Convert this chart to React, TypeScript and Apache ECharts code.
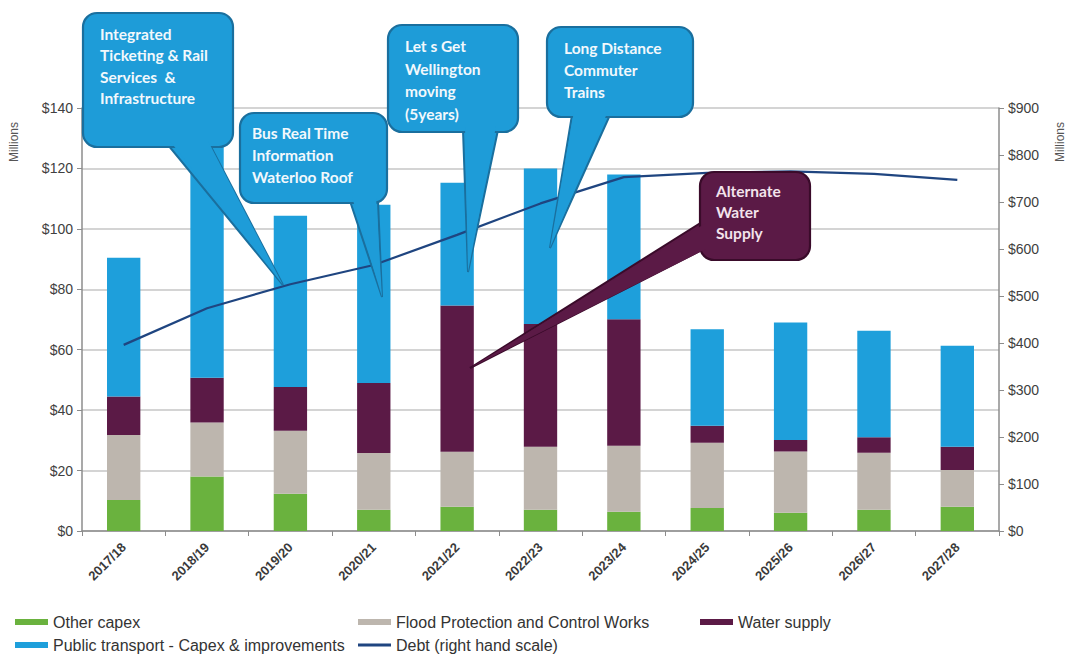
import React, { useEffect, useRef } from 'react';
import * as echarts from 'echarts';

const categories = ['2017/18', '2018/19', '2019/20', '2020/21', '2021/22', '2022/23', '2023/24', '2024/25', '2025/26', '2026/27', '2027/28'];
const otherCapex = [10.3, 18, 12.3, 7, 8, 7, 6.4, 7.6, 6, 7, 8];
const floodProtection = [21.5, 17.9, 20.9, 18.8, 18.2, 20.9, 21.8, 21.6, 20.3, 18.9, 12.2];
const waterSupply = [12.7, 14.8, 14.5, 23.2, 48.4, 40.6, 41.9, 5.6, 3.8, 5.1, 7.7];
const publicTransport = [45.9, 77.3, 56.6, 59, 40.7, 51.5, 47.9, 32, 38.9, 35.3, 33.4];
const debt = [396, 474, 525, 566, 630, 697, 753, 762, 765, 760, 747];

const seriesNames = ['Other capex', 'Flood Protection and Control Works', 'Water supply', 'Public transport - Capex & improvements', 'Debt (right hand scale)'];
const calloutTexts = [
  ['Integrated', 'Ticketing & Rail', 'Services  &', 'Infrastructure'],
  ['Bus Real Time', 'Information', 'Waterloo Roof'],
  ['Let s Get', 'Wellington', 'moving', '(5years)'],
  ['Long Distance', 'Commuter', 'Trains'],
  ['Alternate', 'Water', 'Supply'],
];

const COLORS = {
  green: '#6ab23e',
  gray: '#bdb6ae',
  purple: '#5b1a46',
  blue: '#1e9fdb',
  debt: '#1f4580',
};

const BLUE_BOX = { fill: '#1e9cd8', stroke: '#1a6f9e', text: '#f2f8fc' };
const PURPLE_BOX = { fill: '#5b1a46', stroke: '#3a0b2a', text: '#f3e3ec' };

const calloutLayout = [
  { box: [83, 13, 150, 134], tail: [[168, 145], [210, 145], [283, 285]], tx: 100, ty: 23, lh: 21.5, pal: BLUE_BOX },
  { box: [240, 113, 147, 90], tail: [[350, 201], [378, 201], [382, 297]], tx: 252, ty: 122, lh: 22, pal: BLUE_BOX },
  { box: [388, 25, 130, 107], tail: [[463, 130], [498, 130], [468, 272]], tx: 405, ty: 35, lh: 22.5, pal: BLUE_BOX },
  { box: [547, 27, 146, 90], tail: [[572, 115], [610, 115], [550, 248]], tx: 564, ty: 37, lh: 22, pal: BLUE_BOX },
  { box: [700, 172, 110, 88], tail: [[702, 222], [702, 250], [470, 368]], tx: 716, ty: 180, lh: 21, pal: PURPLE_BOX },
];

function buildCallouts() {
  const els: any[] = [];
  calloutLayout.forEach((c, i) => {
    const [x, y, w, h] = c.box;
    els.push({ type: 'polygon', z: 100, shape: { points: c.tail }, style: { fill: c.pal.fill, stroke: c.pal.stroke, lineWidth: 2 } });
    els.push({ type: 'rect', z: 101, shape: { x, y, width: w, height: h, r: 14 }, style: { fill: c.pal.fill, stroke: c.pal.stroke, lineWidth: 2.2 } });
    let inner: number[][];
    if (i === 4) {
      inner = [[c.tail[0][0] + 4, c.tail[0][1] + 1], [c.tail[1][0] + 4, c.tail[1][1] - 1], c.tail[2]];
    } else {
      inner = [[c.tail[0][0] + 2, c.tail[0][1] - 4], [c.tail[1][0] - 2, c.tail[1][1] - 4], c.tail[2]];
    }
    els.push({ type: 'polygon', z: 102, shape: { points: inner }, style: { fill: c.pal.fill } });
    els.push({
      type: 'text', z: 103, x: c.tx, y: c.ty,
      style: {
        text: calloutTexts[i].join('\n'), fill: c.pal.text,
        fontFamily: 'Lato', fontWeight: 'bold', fontSize: 15.5, lineHeight: c.lh,
        align: 'left', verticalAlign: 'top',
      },
    });
  });
  els.push({ type: 'text', z: 103, x: 14, y: 142, rotation: Math.PI / 2, style: { text: 'Millions', fill: '#555', fontFamily: 'Arial', fontSize: 12, align: 'center', verticalAlign: 'middle' } });
  els.push({ type: 'text', z: 103, x: 1060, y: 142, rotation: Math.PI / 2, style: { text: 'Millions', fill: '#555', fontFamily: 'Arial', fontSize: 12, align: 'center', verticalAlign: 'middle' } });
  return els;
}

export default function App() {
  const ref = useRef<HTMLDivElement>(null);
  useEffect(() => {
    if (!ref.current) return;
    const chart = echarts.init(ref.current, null, { renderer: 'svg' });
    const legendText = { fontFamily: 'Arial', fontSize: 16, color: '#333' };
    const mkLegend = (name: string, left: number, top: number, extra: any = {}) => ({
      data: [name], left, top, itemWidth: 33, itemHeight: 6, itemGap: 4, icon: 'rect',
      textStyle: legendText, selectedMode: false, padding: 0, ...extra,
    });
    const axisLabelStyle = { fontFamily: 'Arial', fontSize: 14, color: '#404040' };
    chart.setOption({
      animation: false,
      backgroundColor: '#ffffff',
      grid: { left: 82, right: 73, top: 108, bottom: 126 },
      legend: [
        mkLegend(seriesNames[0], 15, 614),
        mkLegend(seriesNames[1], 358, 614),
        mkLegend(seriesNames[2], 700, 614),
        mkLegend(seriesNames[3], 15, 637),
        mkLegend(seriesNames[4], 358, 637, { itemHeight: 3 }),
      ],
      xAxis: {
        type: 'category',
        data: categories,
        axisLine: { lineStyle: { color: '#8c8c8c', width: 1.5 } },
        axisTick: { show: true, alignWithLabel: false, length: 5, lineStyle: { color: '#8c8c8c' } },
        axisLabel: { rotate: 45, fontFamily: 'Arial', fontSize: 13, fontWeight: 'bold', color: '#3a3a3a', margin: 14, interval: 0 },
      },
      yAxis: [
        {
          type: 'value', min: 0, max: 140, interval: 20,
          axisLine: { show: true, lineStyle: { color: '#8c8c8c', width: 1.5 } },
          axisTick: { show: true, length: 5, lineStyle: { color: '#8c8c8c' } },
          axisLabel: { formatter: (v: number) => '$' + v, ...axisLabelStyle, margin: 9 },
          splitLine: { show: true, lineStyle: { color: '#c6c6c6', width: 1.5 } },
        },
        {
          type: 'value', min: 0, max: 900, interval: 100,
          axisLine: { show: true, lineStyle: { color: '#8c8c8c', width: 1.5 } },
          axisTick: { show: true, length: 5, lineStyle: { color: '#8c8c8c' } },
          axisLabel: { formatter: (v: number) => '$' + v, ...axisLabelStyle, margin: 9 },
          splitLine: { show: false },
        },
      ],
      series: [
        { name: seriesNames[0], type: 'bar', stack: 'capex', data: otherCapex, barWidth: '40%', itemStyle: { color: COLORS.green } },
        { name: seriesNames[1], type: 'bar', stack: 'capex', data: floodProtection, barWidth: '40%', itemStyle: { color: COLORS.gray } },
        { name: seriesNames[2], type: 'bar', stack: 'capex', data: waterSupply, barWidth: '40%', itemStyle: { color: COLORS.purple } },
        { name: seriesNames[3], type: 'bar', stack: 'capex', data: publicTransport, barWidth: '40%', itemStyle: { color: COLORS.blue } },
        { name: seriesNames[4], type: 'line', yAxisIndex: 1, data: debt, symbol: 'none', lineStyle: { color: COLORS.debt, width: 2.2 }, itemStyle: { color: COLORS.debt }, z: 5 },
      ],
      graphic: buildCallouts(),
    });
    return () => chart.dispose();
  }, []);
  return <div ref={ref} style={{ position: 'fixed', left: 0, top: 0, width: 1072, height: 657 }} />;
}
